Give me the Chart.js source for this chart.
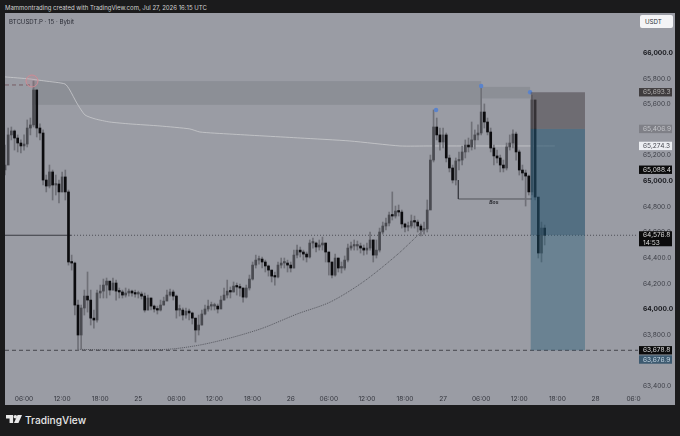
<!DOCTYPE html>
<html>
<head>
<meta charset="utf-8">
<script src="https://cdn.jsdelivr.net/npm/chart.js@4/dist/chart.umd.min.js"></script>
<style>
html, body { margin: 0; padding: 0; width: 680px; height: 436px; background: #1b1b1c; overflow: hidden; }
body { font-family: Inter, "Liberation Sans", sans-serif; }
#header { position: absolute; left: 5px; top: 3px; font-size: 6px; line-height: 10px; color: #d2d2d2; white-space: nowrap; }
#panel { position: absolute; left: 5px; top: 13px; width: 670px; height: 392px; background: #9a9ca4; }
#symbol { position: absolute; left: 9px; top: 17px; font-size: 6.1px; line-height: 9px; color: #2a2c35; white-space: nowrap; }
#usdt { position: absolute; left: 640px; top: 15px; width: 33px; height: 13px; background: #f4f4f6; border-radius: 2px; font-size: 6.2px; line-height: 13px; color: #33353d; text-indent: 5px; }
#brand { position: absolute; left: 6px; top: 414px; height: 14px; color: #e8e8e8; }
#brand svg { position: absolute; left: 0; top: 1px; }
#brand span { position: absolute; left: 19px; top: -1px; font-size: 10.2px; line-height: 15px; font-weight: 500; white-space: nowrap; }
</style>
</head>
<body>
<div id="header">Mammontrading created with TradingView.com, Jul 27, 2026 16:15 UTC</div>
<div id="panel"><canvas id="chart"></canvas></div>
<div id="symbol">BTCUSDT.P · 15 · Bybit</div>
<div id="usdt">USDT</div>
<div id="brand">
  <svg width="16" height="8" viewBox="0 0 18 9"><g fill="#e8e8e8"><path d="M0 0h8v9H4V4H0z"/><circle cx="10.5" cy="2" r="2"/><path d="M13 0h5l-4 9H9z"/></g></svg>
  <span>TradingView</span>
</div>
<script>
// hours since Jul 24 00:00 UTC, one bar each 30 minutes
const startHour = 3;
const barStep = 0.5;
const firstOpen = 65086;

const closes = [
  65125, 65360, 65391, 65336, 65297, 65274, 65289, 65414, 65438, 65711,
  65414, 65375, 65008, 64961, 65071, 64969, 64977, 64915, 65032, 64915,
  64368, 64360, 64032, 63798, 64009, 64102, 64071, 63930, 63915, 64126,
  64141, 64188, 64219, 64149, 64204, 64141, 64134, 64110, 64126, 64141,
  64126, 64118, 64118, 64102, 63993, 64087, 64024, 64001, 63993, 64032,
  64063, 64110, 64134, 64102, 63993, 63993, 63954, 63985, 63970, 63930,
  63837, 63876, 63962, 64001, 64024, 64024, 64024, 64001, 64071, 64110,
  64141, 64134, 64180, 64173, 64165, 64094, 64165, 64235, 64344, 64383,
  64391, 64368, 64337, 64305, 64258, 64251, 64344, 64360, 64360, 64344,
  64321, 64422, 64461, 64446, 64430, 64407, 64516, 64516, 64485, 64501,
  64516, 64446, 64368, 64266, 64399, 64321, 64321, 64383, 64477, 64493,
  64493, 64493, 64477, 64461, 64477, 64540, 64422, 64461, 64602, 64649,
  64672, 64735, 64727, 64766, 64758, 64665, 64641, 64649, 64688, 64680,
  64649, 64618, 64626, 64774, 65164, 65422, 65360, 65305, 65360, 65180,
  65102, 65008, 65157, 65164, 65227, 65281, 65266, 65321, 65360, 65375,
  65539, 65461, 65383, 65258, 65196, 65180, 65125, 65102, 65266, 65297,
  65367, 65227, 65086, 65063, 65039, 64915, 65633, 64875, 64438, 64633, 64576.8
];
const highs = [
  65281, 65414, 65422, 65399, 65360, 65321, 65360, 65477, 65492, 65781,
  65711, 65446, 65399, 65047, 65125, 65086, 65047, 65008, 65071, 65086,
  64930, 64422, 64368, 64071, 64032, 64149, 64290, 64149, 63993, 64149,
  64188, 64235, 64243, 64212, 64243, 64227, 64165, 64149, 64165, 64157,
  64149, 64149, 64141, 64134, 64126, 64110, 64087, 64032, 64024, 64071,
  64094, 64149, 64157, 64149, 64110, 64032, 64009, 64009, 64001, 63977,
  63930, 63954, 63993, 64032, 64071, 64055, 64047, 64040, 64102, 64165,
  64227, 64173, 64212, 64204, 64196, 64165, 64188, 64266, 64368, 64422,
  64415, 64407, 64383, 64344, 64305, 64290, 64368, 64399, 64399, 64383,
  64368, 64461, 64501, 64485, 64461, 64446, 64540, 64555, 64524, 64540,
  64563, 64516, 64446, 64368, 64430, 64399, 64368, 64415, 64508, 64524,
  64540, 64532, 64516, 64501, 64516, 64602, 64540, 64540, 64633, 64680,
  64711, 64758, 64915, 64805, 64813, 64774, 64672, 64680, 64735, 64727,
  64696, 64665, 64680, 64852, 65203, 65555, 65492, 65414, 65414, 65375,
  65203, 65125, 65180, 65227, 65274, 65321, 65336, 65461, 65399, 65438,
  65735, 65602, 65492, 65414, 65281, 65242, 65203, 65164, 65297, 65360,
  65399, 65383, 65242, 65125, 65086, 65047, 65672, 65633, 64852, 64680, 64657
];
const lows = [
  65047, 65242, 65321, 65242, 65227, 65219, 65242, 65266, 65360, 65422,
  65344, 65321, 64969, 64915, 64946, 64852, 64891, 64829, 64915, 64852,
  64344, 64305, 63954, 63680, 63688, 63954, 63977, 63876, 63852, 63899,
  64087, 64087, 64087, 64110, 64149, 64071, 64087, 64087, 64094, 64102,
  64102, 64094, 64087, 64079, 63977, 63993, 63993, 63977, 63962, 63985,
  64032, 64071, 64102, 64071, 63930, 63946, 63915, 63930, 63915, 63884,
  63743, 63798, 63876, 63954, 63985, 63993, 63993, 63970, 64009, 64071,
  64087, 64087, 64134, 64110, 64102, 64055, 64087, 64149, 64227, 64321,
  64352, 64321, 64290, 64258, 64212, 64188, 64243, 64321, 64321, 64290,
  64290, 64321, 64399, 64407, 64383, 64368, 64399, 64477, 64446, 64461,
  64461, 64368, 64266, 64243, 64258, 64290, 64282, 64305, 64368, 64461,
  64461, 64461, 64438, 64422, 64430, 64461, 64368, 64399, 64446, 64586,
  64618, 64649, 64696, 64711, 64727, 64633, 64602, 64610, 64633, 64633,
  64602, 64571, 64586, 64602, 64790, 65149, 65321, 65242, 65258, 65149,
  65071, 64985, 64969, 65086, 65125, 65180, 65227, 65242, 65250, 65321,
  65360, 65414, 65360, 65227, 65125, 65141, 65071, 65071, 65086, 65242,
  65258, 65164, 65047, 65008, 64805, 64891, 64891, 64852, 64399, 64368, 64501
];

// axis labels
const priceTicks = [63400, 63600, 63800, 64000, 64200, 64400, 64600, 64800, 65000, 65200, 65400, 65600, 65800, 66000];
const boldPrices = [64000, 65000, 66000];
const timeTicks = [6, 12, 18, 24, 30, 36, 42, 48, 54, 60, 66, 72, 78, 84, 90, 96, 102];
const timeLabels = ["06:00", "12:00", "18:00", "25", "06:00", "12:00", "18:00", "26", "06:00", "12:00", "18:00", "27", "06:00", "12:00", "18:00", "28", "06:0"];

// drawings
const avgLineHours = [3, 6.9, 9.3, 12.45, 13.2, 14.3, 15.6, 17.2, 19.5, 22.7, 27.4, 32.1, 33.7, 38.4, 49.5, 57.3, 65.2, 69.9, 89.6];
const avgLinePrices = [65813, 65797, 65781, 65758, 65711, 65610, 65516, 65485, 65461, 65446, 65430, 65407, 65383, 65367, 65336, 65313, 65274, 65274, 65274];
const arcHours = [14.5, 22.7, 29, 33.7, 38.4, 43.6, 49, 54.2, 59.4, 64.7, 68.4, 69.15];
const arcPrices = [63686, 63680, 63688, 63720, 63774, 63852, 63962, 64055, 64212, 64422, 64594, 64626];
const bosHours = [74.4, 74.4, 86];
const bosPrices = [65008, 64860, 64860];
const pivotHours = [70.9, 78, 85.7];
const pivotPrices = [65555, 65742, 65693];
const lastPrice = 64576.8;
const targetPrice = 63678.8;
const entryPrice = 65406.9;
const stopPrice = 65693.3;
const boxStart = 85.8, boxEnd = 94.35;

const tags = [
  { price: 65693.3, text: "65,693.3", bg: "#3f3c3e", fg: "#b4b2b2" },
  { price: 65406.9, text: "65,406.9", bg: "#7f8087", fg: "#c4c5ca" },
  { price: 65274.3, text: "65,274.3", bg: "#eceef2", fg: "#4a4c54" },
  { price: 65088.4, text: "65,088.4", bg: "#0b0b0c", fg: "#dcdcdc" },
  { price: 63678.8, text: "63,678.8", bg: "#0b0b0c", fg: "#dcdcdc" },
  { price: 63676.9, text: "63,676.9", bg: "#3d5a70", fg: "#c5d6e4", shift: 9 }
];

const pairs = (xs, ys) => xs.map((x, i) => ({ x, y: ys[i] }));
const barHour = i => startHour + i * barStep;
const opens = closes.map((c, i) => i === 0 ? firstOpen : closes[i - 1]);
const isBold = ctx => !!ctx.tick && boldPrices.includes(ctx.tick.value);

const tickFont = "Inter, 'Liberation Sans', sans-serif";

const zonesPlugin = {
  id: "zones",
  beforeDatasetsDraw(chart) {
    const { ctx, scales: { x, y } } = chart;
    const box = (h1, h2, p1, p2, col) => {
      ctx.fillStyle = col;
      ctx.fillRect(x.getPixelForValue(h1), y.getPixelForValue(p1), x.getPixelForValue(h2) - x.getPixelForValue(h1), y.getPixelForValue(p2) - y.getPixelForValue(p1));
    };
    box(7.25, 78, 65780, 65595, "rgba(70,72,78,0.16)");
    box(78, 85.7, 65735, 65645, "rgba(70,72,78,0.16)");
  },
  afterDatasetsDraw(chart) {
    const { ctx, scales: { x, y } } = chart;
    const box = (p1, p2, col) => {
      ctx.fillStyle = col;
      ctx.fillRect(x.getPixelForValue(boxStart), y.getPixelForValue(p1), x.getPixelForValue(boxEnd) - x.getPixelForValue(boxStart), y.getPixelForValue(p2) - y.getPixelForValue(p1));
    };
    box(stopPrice, entryPrice, "rgba(82,76,81,0.6)");
    box(entryPrice, lastPrice, "rgba(37,81,109,0.6)");
    box(lastPrice, targetPrice, "rgba(36,93,121,0.4)");
    ctx.fillStyle = "#26272c";
    ctx.font = "italic bold 5px " + tickFont;
    ctx.textAlign = "center";
    ctx.textBaseline = "middle";
    ctx.fillText("Bos", x.getPixelForValue(80), y.getPixelForValue(64829));
  },
  afterDraw(chart) {
    const { ctx, scales: { y } } = chart;
    const left = 634, w = 33;
    ctx.save();
    ctx.font = "6.6px " + tickFont;
    ctx.textBaseline = "middle";
    ctx.textAlign = "left";
    tags.forEach(t => {
      const cy = y.getPixelForValue(t.price) + (t.shift || 0);
      ctx.fillStyle = t.bg;
      ctx.fillRect(left, cy - 4.2, w, 8.4);
      ctx.fillStyle = t.fg;
      ctx.fillText(t.text, left + 4, cy + 0.2);
    });
    const cy = y.getPixelForValue(lastPrice);
    ctx.fillStyle = "#0b0b0c";
    ctx.fillRect(left, cy - 4, w, 15);
    ctx.fillStyle = "#dcdcdc";
    ctx.fillText("64,576.8", left + 4, cy);
    ctx.fillText("14:53", left + 4, cy + 7.5);
    ctx.restore();
  }
};

new Chart(document.getElementById("chart"), {
  type: "bar",
  plugins: [zonesPlugin],
  data: {
    datasets: [
      // drawings behind the candles
      { type: "line", order: 9, data: pairs(avgLineHours, avgLinePrices), borderColor: "#c9cacd", borderWidth: 0.8, pointRadius: 0, tension: 0.2 },
      { type: "line", order: 8, data: pairs([3, 13.4], [lastPrice, lastPrice]), borderColor: "#3a3b42", borderWidth: 1, pointRadius: 0 },
      { type: "line", order: 8, data: pairs([13.4, 102.7], [lastPrice, lastPrice]), borderColor: "#3a3b42", borderWidth: 0.8, borderDash: [1, 2], pointRadius: 0 },
      { type: "line", order: 8, data: pairs([3, 102.7], [targetPrice, targetPrice]), borderColor: "#2f3036", borderWidth: 0.8, borderDash: [4, 3], pointRadius: 0 },
      { type: "line", order: 8, data: pairs([3, 7], [65750, 65750]), borderColor: "#6d4b50", borderWidth: 0.8, borderDash: [4, 3], pointRadius: 0 },
      { type: "line", order: 8, data: pairs(arcHours, arcPrices), borderColor: "#3a3b42", borderWidth: 0.7, borderDash: [1, 1], pointRadius: 0, tension: 0.3 },
      { type: "line", order: 8, data: pairs(bosHours, bosPrices), borderColor: "#34353b", borderWidth: 0.7, pointRadius: 0 },
      // candles
      { order: 5, grouped: false, barThickness: 1, data: lows.map((l, i) => ({ x: barHour(i), y: [l, highs[i]] })), backgroundColor: "#6f7077" },
      { order: 4, grouped: false, barThickness: 2, minBarLength: 1.5, data: closes.map((c, i) => ({ x: barHour(i), y: [opens[i], c] })),
        backgroundColor: closes.map((c, i) => c >= opens[i] ? "#4a4b51" : "#0b0b0e") },
      // markers
      { type: "scatter", order: 1, data: pairs(pivotHours, pivotPrices), pointRadius: 2.2, pointBackgroundColor: "#5a83cc", pointBorderWidth: 0 },
      { type: "scatter", order: 1, data: pairs([7.25], [65781]), pointRadius: 6, pointBackgroundColor: "rgba(214,130,140,0.15)", pointBorderColor: "#cf8a94", pointBorderWidth: 1 }
    ]
  },
  options: {
    responsive: true,
    maintainAspectRatio: false,
    animation: false,
    events: [],
    layout: { padding: 0, autoPadding: false },
    plugins: { legend: { display: false }, tooltip: { enabled: false } },
    scales: {
      x: {
        type: "linear",
        min: 3,
        max: 102.7,
        offset: false,
        grid: { display: false, drawTicks: false },
        border: { display: false },
        afterFit(scale) { scale.height = 14; },
        afterBuildTicks(scale) { scale.ticks = timeTicks.map(value => ({ value })); },
        ticks: {
          autoSkip: false,
          maxRotation: 0,
          padding: 4,
          color: "#33353d",
          font: { family: tickFont, size: 6.6 },
          callback: value => timeLabels[timeTicks.indexOf(value)]
        }
      },
      y: {
        position: "right",
        min: 63361,
        max: 66242,
        grid: { display: false, drawTicks: false },
        border: { display: false },
        afterFit(scale) { scale.width = 37; },
        afterBuildTicks(scale) { scale.ticks = priceTicks.map(value => ({ value })); },
        ticks: {
          autoSkip: false,
          padding: 5,
          color: ctx => isBold(ctx) ? "#16171c" : "#3c3e46",
          font: ctx => ({ family: tickFont, size: 6.6, weight: isBold(ctx) ? "bold" : "normal" }),
          callback: value => value.toLocaleString("en-US", { minimumFractionDigits: 1 })
        }
      }
    }
  }
});
</script>
</body>
</html>
